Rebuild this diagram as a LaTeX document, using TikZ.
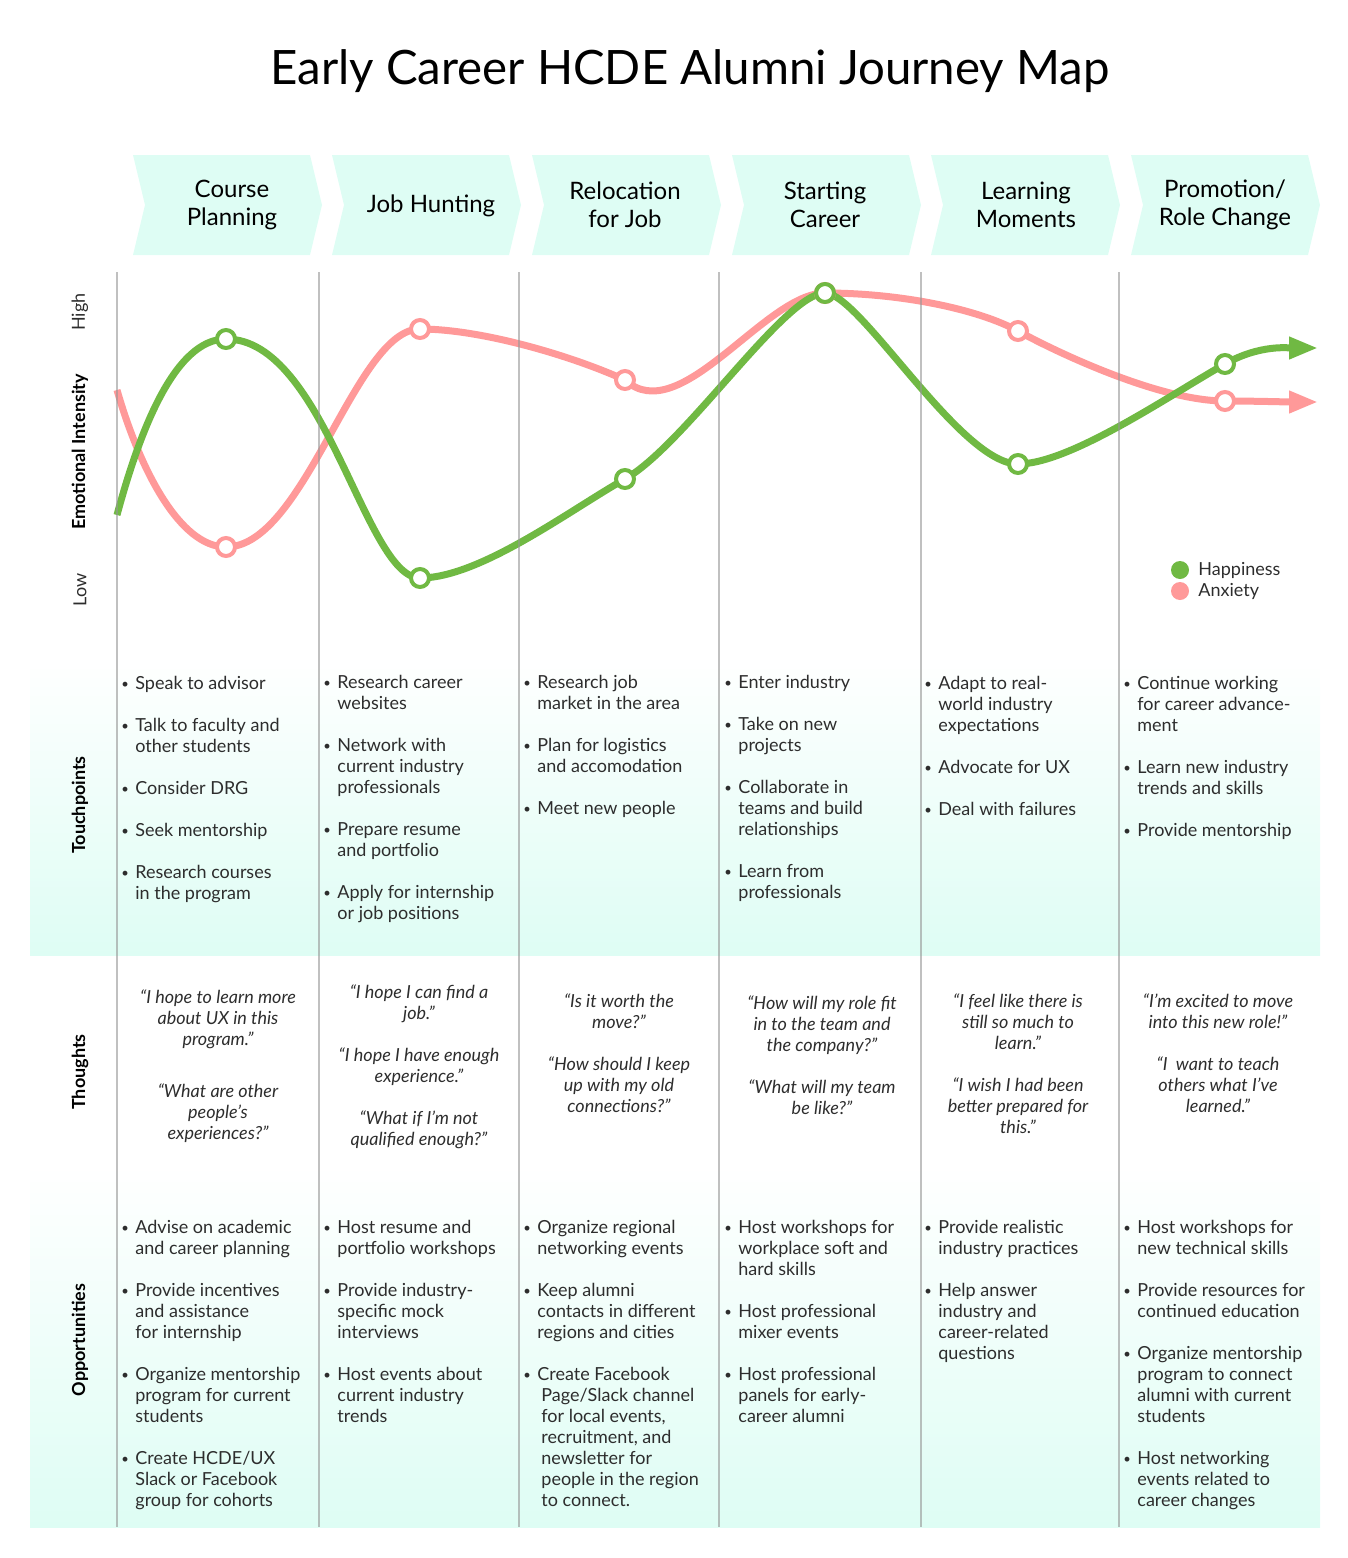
\documentclass[tikz,border=0pt]{standalone}
\usepackage{fontspec}
\setmainfont{Lato}
\usetikzlibrary{arrows.meta}

\definecolor{mint}{RGB}{222,253,244}
\definecolor{hgreen}{RGB}{112,185,67}
\definecolor{apink}{RGB}{255,153,153}
\definecolor{txt}{RGB}{45,45,45}
\definecolor{rule}{RGB}{150,150,150}

% small bullet hanging to the left of the item text
\newcommand\bul{\makebox[0pt][r]{\raisebox{0.8pt}{\fontsize{6.5}{7}\selectfont\textbullet}\hspace{3.2pt}}}

\begin{document}
\begin{tikzpicture}[x=0.5pt,y=-0.5pt,
  chev/.style={fill=mint, draw=none},
  stage/.style={align=center, inner sep=0, text=black, font=\fontsize{12}{14}\selectfont},
  % text blocks hang from a strut, so the node's top sits 7.35pt above the first baseline
  tp/.style={anchor=north west, align=left, inner sep=0, text=txt, font=\fontsize{9}{10.5}\selectfont, execute at begin node=\strut},
  thought/.style={anchor=north, align=center, inner sep=0, text=txt, font=\fontsize{9}{10.5}\selectfont\itshape, execute at begin node=\strut},
  rowlabel/.style={rotate=90, inner sep=0, text=black, font=\fontsize{9}{10}\selectfont\bfseries},
  scale label/.style={rotate=90, inner sep=0, text=txt, font=\fontsize{9}{10}\selectfont},
  colrule/.style={draw=rule, line width=0.7pt, opacity=0.6},
  gline/.style={draw=hgreen, line width=3.5pt, -{Triangle[length=14.5pt,width=10.5pt]}},
  pline/.style={draw=apink, line width=3.5pt, -{Triangle[length=14.5pt,width=10.5pt]}},
  gmark/.style={circle, draw=hgreen, fill=white, line width=2pt, minimum size=9pt, inner sep=0},
  pmark/.style={circle, draw=apink, fill=white, line width=2pt, minimum size=9pt, inner sep=0},
  legdot/.style={circle, minimum size=9pt, inner sep=0},
  legtext/.style={anchor=west, inner sep=0, text=txt, font=\fontsize{9}{10}\selectfont}
]
\useasboundingbox (0,0) rectangle (1348,1558);

% title
\node[anchor=base, inner sep=0, font=\fontsize{23.7}{28}\selectfont] (title) at (690,84)
  {Early Career HCDE Alumni Journey Map};

% stage chevrons
\foreach \x in {133,332,532,732,931,1131}
  \fill[chev] (\x,155) -- ++(177,0) -- ++(12,50) -- ++(-12,50) -- ++(-177,0) -- ++(12,-50) -- cycle;
\node[stage] (s1) at (232,205) {Course\\Planning};
\node[stage] (s2) at (431,206) {Job Hunting};
\node[stage] (s3) at (625,205) {Relocation\\for Job};
\node[stage] (s4) at (825,205) {Starting\\Career};
\node[stage] (s5) at (1026,205) {Learning\\Moments};
\node[stage] (s6) at (1225,205) {Promotion/\\Role Change};

% shaded bands
\shade[top color=white, bottom color=mint] (30,655) rectangle (1320,955);
\shade[top color=white, bottom color=mint] (30,1165) rectangle (1320,1527);

% row labels
\node[scale label] (high) at (80,312) {High};
\node[rowlabel] (emo) at (80,452) {Emotional Intensity};
\node[scale label] (low) at (80,590) {Low};
\node[rowlabel] (touch) at (80,805) {Touchpoints};
\node[rowlabel] (thought) at (80,1072) {Thoughts};
\node[rowlabel] (opp) at (80,1340) {Opportunities};

% curve points
\coordinate (g0) at (117,515);
\coordinate (g1) at (226,339);
\coordinate (g2) at (420,578);
\coordinate (g3) at (625,479);
\coordinate (g4) at (825,293);
\coordinate (g5) at (1018,464);
\coordinate (g6) at (1225,364);
\coordinate (g7) at (1318,348);
\coordinate (p0) at (117,390);
\coordinate (p1) at (226,547);
\coordinate (p2) at (420,329);
\coordinate (p3) at (625,380);
\coordinate (p4) at (825,293);
\coordinate (p5) at (1018,331);
\coordinate (p6) at (1225,401);
\coordinate (p7) at (1318,402);

% anxiety curve
\draw[pline] (p0) .. controls +(23,80) and +(-46,0) .. (p1)
  .. controls +(79,0) and +(-65,0) .. (p2)
  .. controls +(60,0) and +(-55,-25) .. (p3)
  .. controls +(55,50) and +(-60,0) .. (p4)
  .. controls +(75,0) and +(-40,-22) .. (p5)
  .. controls +(40,22) and +(-65,0) .. (p6)
  .. controls +(30,0) and +(-30,0) .. (p7);

% happiness curve
\draw[gline] (g0) .. controls +(23,-85) and +(-51,0) .. (g1)
  .. controls +(99,0) and +(-55,0) .. (g2)
  .. controls +(60,0) and +(-55,31) .. (g3)
  .. controls +(60,-34) and +(-40,0) .. (g4)
  .. controls +(35,0) and +(-58,0) .. (g5)
  .. controls +(52,0) and +(-55,31) .. (g6)
  .. controls +(35,-20) and +(-28,0) .. (g7);

% column rules
\foreach \x in {117,319,519,719,921,1119}
  \draw[colrule] (\x,272) -- (\x,1527);

% markers
\foreach \i in {1,...,6} \node[pmark] (pm\i) at (p\i) {};
\foreach \i in {1,...,6} \node[gmark] (gm\i) at (g\i) {};

% legend
\node[legdot, fill=hgreen] (lgh) at (1180,570) {};
\node[legtext] (lght) at (1198,570) {Happiness};
\node[legdot, fill=apink] (lga) at (1180,591) {};
\node[legtext] (lgat) at (1198,591) {Anxiety};

% touchpoints (first baseline at about y=690)
\node[tp] (tp1) at (135,676) {\bul Speak to advisor\\[10.5pt]\bul Talk to faculty and\\other students\\[10.5pt]\bul Consider DRG\\[10.5pt]\bul Seek mentorship\\[10.5pt]\bul Research courses\\in the program};
\node[tp] (tp2) at (337,675) {\bul Research career\\websites\\[10.5pt]\bul Network with\\current industry\\professionals\\[10.5pt]\bul Prepare resume\\and portfolio\\[10.5pt]\bul Apply for internship\\or job positions};
\node[tp] (tp3) at (537,675) {\bul Research job\\market in the area\\[10.5pt]\bul Plan for logistics\\and accomodation\\[10.5pt]\bul Meet new people};
\node[tp] (tp4) at (738,675) {\bul Enter industry\\[10.5pt]\bul Take on new\\projects\\[10.5pt]\bul Collaborate in\\teams and build\\relationships\\[10.5pt]\bul Learn from\\professionals};
\node[tp] (tp5) at (938,676) {\bul Adapt to real-\\world industry\\expectations\\[10.5pt]\bul Advocate for UX\\[10.5pt]\bul Deal with failures};
\node[tp] (tp6) at (1137,676) {\bul Continue working\\for career advance-\\ment\\[10.5pt]\bul Learn new industry\\trends and skills\\[10.5pt]\bul Provide mentorship};

% thoughts
\node[thought] (th1) at (218,989) {“I hope to learn more\\about UX in this\\program.”\\[15.5pt]“What are other\\people’s\\experiences?”};
\node[thought] (th2) at (419,984) {“I hope I can find a\\job.”\\[10.5pt]“I hope I have enough\\experience.”\\[10.5pt]“What if I’m not\\qualified enough?”};
\node[thought] (th3) at (619,993) {“Is it worth the\\move?”\\[10.5pt]“How should I keep\\up with my old\\connections?”};
\node[thought] (th4) at (822,995) {“How will my role fit\\in to the team and\\the company?”\\[10.5pt]“What will my team\\be like?”};
\node[thought] (th5) at (1018,993) {“I feel like there is\\still so much to\\learn.”\\[10.5pt]“I wish I had been\\better prepared for\\this.”};
\node[thought] (th6) at (1218,993) {“I’m excited to move\\into this new role!”\\[10.5pt]“I\ \ want to teach\\others what I’ve\\learned.”};

% opportunities
\node[tp] (op1) at (135,1220) {\bul Advise on academic\\and career planning\\[10.5pt]\bul Provide incentives\\and assistance\\for internship\\[10.5pt]\bul Organize mentorship\\program for current\\students\\[10.5pt]\bul Create HCDE/UX\\Slack or Facebook\\group for cohorts};
\node[tp] (op2) at (337,1220) {\bul Host resume and\\portfolio workshops\\[10.5pt]\bul Provide industry-\\specific mock\\interviews\\[10.5pt]\bul Host events about\\current industry\\trends};
\node[tp] (op3) at (537,1220) {\bul Organize regional\\networking events\\[10.5pt]\bul Keep alumni\\contacts in different\\regions and cities\\[10.5pt]\bul Create Facebook\\\hspace{2pt}Page/Slack channel\\\hspace{2pt}for local events,\\\hspace{2pt}recruitment, and\\\hspace{2pt}newsletter for\\\hspace{2pt}people in the region\\\hspace{2pt}to connect.};
\node[tp] (op4) at (738,1220) {\bul Host workshops for\\workplace soft and\\hard skills\\[10.5pt]\bul Host professional\\mixer events\\[10.5pt]\bul Host professional\\panels for early-\\career alumni};
\node[tp] (op5) at (938,1220) {\bul Provide realistic\\industry practices\\[10.5pt]\bul Help answer\\industry and\\career-related\\questions};
\node[tp] (op6) at (1137,1220) {\bul Host workshops for\\new technical skills\\[10.5pt]\bul Provide resources for\\continued education\\[10.5pt]\bul Organize mentorship\\program to connect\\alumni with current\\students\\[10.5pt]\bul Host networking\\events related to\\career changes};

\end{tikzpicture}
\end{document}
